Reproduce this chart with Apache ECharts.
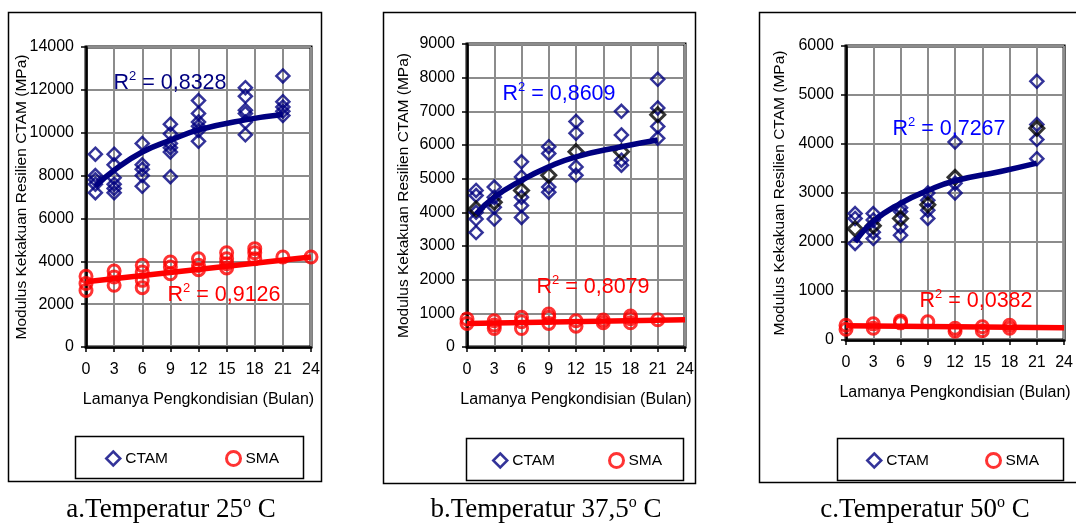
<!DOCTYPE html>
<html>
<head>
<meta charset="utf-8">
<script src="https://cdn.jsdelivr.net/npm/echarts@6/dist/echarts.min.js"></script>
<style>
html, body { margin: 0; padding: 0; background: #fff; }
#main { width: 1076px; height: 531px; }
</style>
</head>
<body>
<div id="main"></div>
<script>
// months on the x axis
const monthsCtam = [1, 3, 6, 9, 12, 17, 21];
const monthsCtamC = [1, 3, 6, 9, 12, 21];
const monthsSmaA = [0, 3, 6, 9, 12, 15, 18, 21, 24];
const monthsSmaB = [0, 3, 6, 9, 12, 15, 18, 21];
const monthsSmaC = [0, 3, 6, 9, 12, 15, 18];
const monthsTrendSma = [0, 24];

// a. 25 C
const ctamA = [[9000, 8000, 7800, 7600, 7200], [9000, 8500, 7900, 7600, 7400, 7200], [9500, 8500, 8300, 8000, 7500],
  [10400, 9950, 9500, 9300, 9100, 7950], [11500, 10900, 10500, 10300, 10100, 9600],
  [12100, 11700, 11050, 10900, 10500, 9900], [12650, 11450, 11200, 11000, 10800]];
const smaA = [[3300, 2960, 2640], [3550, 3270, 2880], [3810, 3500, 3110, 2770], [3970, 3730, 3420],
  [4120, 3810, 3610], [4400, 4120, 3890, 3690], [4590, 4400, 4120], [4200], [4200]];
const trendCtamA = [7500, 8250, 9100, 9650, 10130, 10600, 10850];
const trendSmaA = [3050, 4200];

// b. 37,5 C
const ctamB = [[4650, 4500, 3800, 3400, 4000], [4750, 4450, 4150, 3800], [5500, 5050, 4450, 4200, 3850],
  [5950, 5750, 4750, 4600], [6700, 6350, 5350, 5100], [7000, 6300, 5550, 5400], [7950, 7100, 6550, 6200]];
const meanB = [4100, 4300, 4650, 5100, 5800, 5800, 6900];
const smaB = [[830, 700], [780, 650, 550], [880, 750, 550], [980, 880, 700], [780, 620], [800, 720], [920, 840, 720], [810]];
const trendCtamB = [3950, 4450, 4950, 5350, 5650, 5950, 6150];
const trendSmaB = [700, 810];

// c. 50 C
const ctamC = [[2580, 2480, 1970], [2580, 2450, 2200, 2070], [2700, 2620, 2310, 2140],
  [3000, 2850, 2650, 2480], [4040, 3200, 3000], [5280, 4400, 4090, 3700]];
const meanC = [2270, 2330, 2480, 2760, 3320, 4320];
const smaC = [[300, 220], [330, 240], [390, 350], [370], [240, 180], [270, 190], [300, 240]];
const trendCtamC = [2000, 2420, 2790, 3050, 3250, 3440, 3610];
const trendSmaC = [290, 250];

const yMax = [14000, 9000, 6000];
const yStep = [2000, 1000, 1000];
const r2Ctam = ['0,8328', '0,8609', '0,7267'];
const r2Sma = ['0,9126', '0,8079', '0,0382'];
const captions = [['a.Temperatur 25', ' C'], ['b.Temperatur 37,5', ' C'], ['c.Temperatur 50', ' C']];

const NAVY = '#000080';
const RED = '#ff0000';
const SANS = '"Liberation Sans", Arial, sans-serif';
const SERIF = '"Liberation Serif", "Times New Roman", serif';

function pairs(xs, ys) {
  const out = [];
  xs.forEach((x, i) => [].concat(ys[i]).forEach(v => out.push([x, v])));
  return out;
}

const grids = [
  { left: 86, top: 47, width: 225, height: 300 },
  { left: 467, top: 44, width: 218, height: 303 },
  { left: 846, top: 46, width: 221, height: 294 }
];
const nameGapY = [56, 55, 58];

const xAxes = grids.map((g, i) => ({
  type: 'value', gridIndex: i, min: 0, max: 24, interval: 3,
  name: 'Lamanya Pengkondisian (Bulan)', nameLocation: 'middle', nameGap: 45,
  nameTextStyle: { fontFamily: SANS, fontSize: 16, color: '#000' },
  axisLine: { show: true, onZero: false, lineStyle: { color: '#000', width: 2.5 } },
  axisTick: { show: true, length: 5, lineStyle: { color: '#000', width: 1.5 } },
  axisLabel: { fontFamily: SANS, fontSize: 16, color: '#000', margin: 15 },
  splitLine: { show: true, lineStyle: { color: '#8c8c8c', width: 2 } }
}));
const yAxes = grids.map((g, i) => ({
  type: 'value', gridIndex: i, min: 0, max: yMax[i], interval: yStep[i],
  name: 'Modulus Kekakuan Resilien CTAM (MPa)', nameLocation: 'middle', nameGap: nameGapY[i],
  nameMoveOverlap: false,
  nameTextStyle: { fontFamily: SANS, fontSize: 15.5, color: '#000' },
  axisLine: { show: true, lineStyle: { color: '#000', width: 2.5 } },
  axisTick: { show: true, length: 5, lineStyle: { color: '#000', width: 1.5 } },
  axisLabel: { fontFamily: SANS, fontSize: 16, color: '#000', margin: 12, formatter: v => String(v) },
  splitLine: { show: true, lineStyle: { color: '#8c8c8c', width: 2 } }
}));

const ctamSets = [[monthsCtam, ctamA], [monthsCtam, ctamB], [monthsCtamC, ctamC]];
const smaSets = [[monthsSmaA, smaA], [monthsSmaB, smaB], [monthsSmaC, smaC]];
const meanSets = [null, [monthsCtam, meanB], [monthsCtamC, meanC]];
const trendCtam = [trendCtamA, trendCtamB, trendCtamC];
const trendSma = [trendSmaA, trendSmaB, trendSmaC];

const series = [];
for (let i = 0; i < 3; i++) {
  series.push({
    name: 'CTAM', type: 'scatter', xAxisIndex: i, yAxisIndex: i, symbol: 'diamond', symbolSize: 13,
    itemStyle: { color: 'transparent', borderColor: NAVY, borderWidth: 2.5 },
    data: pairs(ctamSets[i][0], ctamSets[i][1])
  });
  if (meanSets[i]) {
    series.push({
      name: 'Rata-rata', type: 'scatter', xAxisIndex: i, yAxisIndex: i, symbol: 'diamond', symbolSize: 14,
      itemStyle: { color: 'transparent', borderColor: '#000', borderWidth: 3 },
      data: pairs(meanSets[i][0], meanSets[i][1])
    });
  }
  series.push({
    name: 'SMA', type: 'scatter', xAxisIndex: i, yAxisIndex: i, symbol: 'circle', symbolSize: 12,
    itemStyle: { color: 'transparent', borderColor: RED, borderWidth: 3 },
    data: pairs(smaSets[i][0], smaSets[i][1])
  });
  series.push({
    name: 'Trend CTAM', type: 'line', xAxisIndex: i, yAxisIndex: i, smooth: true, symbol: 'none',
    lineStyle: { color: NAVY, width: 5.5 }, z: 3,
    data: pairs(monthsCtam, trendCtam[i])
  });
  series.push({
    name: 'Trend SMA', type: 'line', xAxisIndex: i, yAxisIndex: i, symbol: 'none',
    lineStyle: { color: RED, width: 5.5 }, z: 3,
    data: pairs(monthsTrendSma, trendSma[i])
  });
}

const legendPos = [[105, 450, 57], [492, 452, 53], [866, 452, 56]];
const legends = legendPos.map(p => ({
  left: p[0], top: p[1], itemGap: p[2], itemWidth: 14, itemHeight: 14, padding: 0,
  textStyle: { fontFamily: SANS, fontSize: 15.5, color: '#000' },
  data: [
    { name: 'CTAM', icon: 'diamond', itemStyle: { color: 'transparent', borderColor: NAVY, borderWidth: 2.5 } },
    { name: 'SMA', icon: 'circle', itemStyle: { color: 'transparent', borderColor: RED, borderWidth: 3 } }
  ]
}));

function r2Text(x, y, val, color) {
  return {
    type: 'text', x: x, y: y, z: 100,
    style: {
      text: '{a|R}{s|2}{a| = ' + val + '}',
      align: 'center', verticalAlign: 'middle',
      rich: {
        a: { fontFamily: SANS, fontSize: 21.5, lineHeight: 26, fill: color },
        s: { fontFamily: SANS, fontSize: 13, lineHeight: 13, verticalAlign: 'top', fill: color }
      }
    }
  };
}

const boxes = [[8, 12, 313, 469], [383, 12, 312, 471], [759, 12, 330, 470]];
const legendBoxes = [[75, 436, 228, 42], [466, 438, 217, 42], [837, 438, 226, 42]];
const captionX = [171, 546, 925];

const graphic = [];
boxes.forEach(b => graphic.push({ type: 'rect', shape: { x: b[0] + 0.5, y: b[1] + 0.5, width: b[2], height: b[3] },
  style: { fill: 'none', stroke: '#000', lineWidth: 1.5 }, z: -1 }));
legendBoxes.forEach(b => graphic.push({ type: 'rect', shape: { x: b[0] + 0.5, y: b[1] + 0.5, width: b[2], height: b[3] },
  style: { fill: 'none', stroke: '#000', lineWidth: 1.5 }, z: -1 }));
captions.forEach((c, i) => graphic.push({
  type: 'text', x: captionX[i], y: 510,
  style: {
    text: '{a|' + c[0] + '}{s|o}{a|' + c[1] + '}', align: 'center', verticalAlign: 'middle',
    rich: {
      a: { fontFamily: SERIF, fontSize: 27, lineHeight: 30, fill: '#000' },
      s: { fontFamily: SERIF, fontSize: 16, lineHeight: 15, verticalAlign: 'top', fill: '#000' }
    }
  }
}));
graphic.push(r2Text(170, 83, r2Ctam[0], NAVY));
graphic.push(r2Text(224, 295, r2Sma[0], RED));
graphic.push(r2Text(559, 94, r2Ctam[1], '#0000ff'));
graphic.push(r2Text(593, 287, r2Sma[1], RED));
graphic.push(r2Text(949, 129, r2Ctam[2], '#0000ff'));
graphic.push(r2Text(976, 301, r2Sma[2], RED));

const myChart = echarts.init(document.getElementById('main'));
const option = {
  animation: false,
  backgroundColor: '#fff',
  grid: grids.map(g => Object.assign({ show: true, borderColor: '#000', borderWidth: 3, backgroundColor: 'transparent' }, g)),
  xAxis: xAxes,
  yAxis: yAxes,
  legend: legends,
  series: series,
  graphic: graphic
};
myChart.setOption(option);
</script>
</body>
</html>
